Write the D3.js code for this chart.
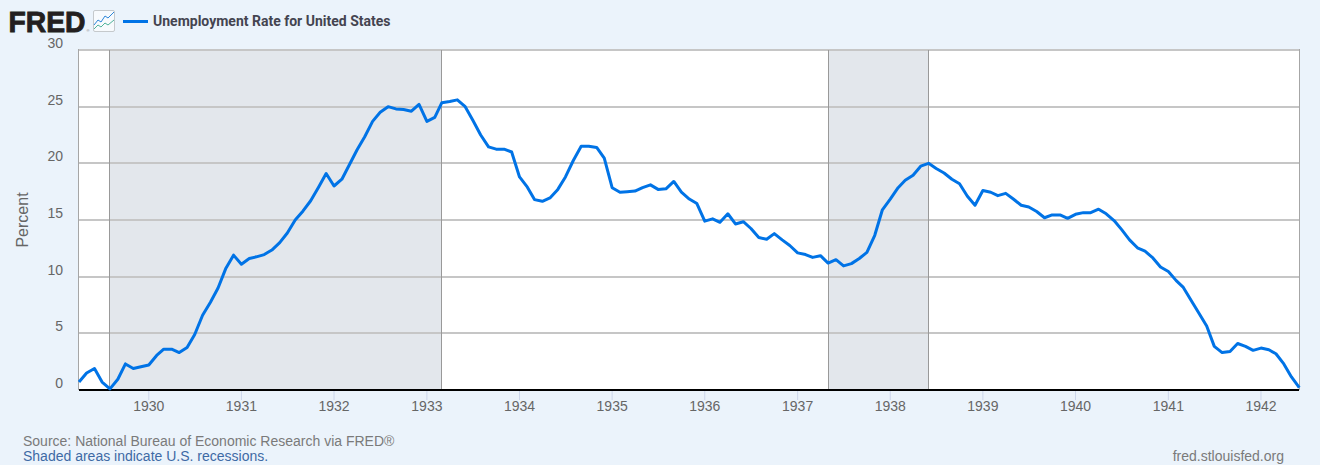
<!DOCTYPE html>
<html><head><meta charset="utf-8">
<script src="https://cdn.jsdelivr.net/npm/d3@7"></script>
<style>html,body{margin:0;padding:0;background:#ebf3fb}svg{display:block}</style>
</head><body><svg id="c" width="1320" height="465"></svg>
<script>
const seriesName = "Unemployment Rate for United States";
const startMonth = "1929-04";
const unemployment = [
0.7,1.5,1.9,0.7,0.1,0.95,2.3,1.9,2.05,2.2,3.05,3.6,3.6,3.3,3.75,4.9,6.6,7.75,9.0,10.75,11.9,11.1,11.6,11.75,
11.95,12.35,13.0,13.85,15.0,15.8,16.7,17.9,19.1,18.0,18.6,19.85,21.2,22.35,23.7,24.5,25.0,24.8,24.75,24.6,25.2,23.7,24.05,
25.35,25.45,25.6,25.0,23.8,22.5,21.45,21.25,21.25,21.0,18.8,17.9,16.8,16.65,16.95,17.7,18.8,20.25,21.5,21.5,21.4,20.45,17.85,17.45,
17.5,17.55,17.85,18.1,17.7,17.75,18.4,17.45,16.85,16.45,14.9,15.1,14.8,15.55,14.65,14.85,14.25,13.45,13.3,13.8,13.25,12.75,12.1,11.95,11.7,11.85,
11.2,11.5,10.95,11.15,11.6,12.15,13.65,15.9,16.85,17.85,18.5,18.95,19.75,20.0,19.55,19.15,18.6,18.2,
17.1,16.3,17.6,17.45,17.15,17.35,16.85,16.3,16.15,15.75,15.2,15.45,15.45,15.15,15.5,15.65,15.65,15.95,15.55,14.95,14.15,13.25,12.55,12.25,11.65,10.85,10.45,
9.65,9.05,7.9,6.8,5.65,3.85,3.3,3.4,4.1,3.85,3.5,3.7,3.55,3.2,2.3,1.15,0.2];
const recessions = [["1929-08-01","1933-03-01"],["1937-05-01","1938-06-01"]];
const yTicks = [0,5,10,15,20,25,30];
const xTickYears = [1930,1931,1932,1933,1934,1935,1936,1937,1938,1939,1940,1941,1942];
const sourceText = "Source: National Bureau of Economic Research via FRED®";
const noteText = "Shaded areas indicate U.S. recessions.";
const siteText = "fred.stlouisfed.org";

const svg = d3.select("#c");
const W = 1320, H = 465;
const L = 79, R = 1299, T = 50, B = 390;
const AXF = "'Liberation Sans',Arial,sans-serif";
svg.append("rect").attr("width",W).attr("height",H).attr("fill","#ebf3fb");

const parse = d3.utcParse("%Y-%m-%d");
const t0 = parse(startMonth+"-01");
const dates = unemployment.map((_,i)=>d3.utcMonth.offset(t0,i));
const x = d3.scaleUtc().domain([dates[0],dates[dates.length-1]]).range([L,R+0.3]);
const y = d3.scaleLinear().domain([0,30]).range([B,T]);

svg.append("rect").attr("x",L).attr("y",T).attr("width",R-L).attr("height",B-T).attr("fill","#fff");

recessions.forEach(([a,b])=>{
  const xa=Math.floor(x(parse(a))), xb=Math.floor(x(parse(b)));
  svg.append("rect").attr("x",xa).attr("y",T).attr("width",xb-xa).attr("height",B-T).attr("fill","#e3e7ec");
});

// horizontal grid
svg.append("g").selectAll("line").data(yTicks.filter(d=>d>0)).join("line")
  .attr("x1",L).attr("x2",R).attr("y1",d=>Math.round(y(d))).attr("y2",d=>Math.round(y(d)))
  .attr("stroke","#c6c6c6").attr("stroke-width",2);

recessions.forEach(([a,b])=>{
  [a,b].forEach(d=>{
    const xv=Math.floor(x(parse(d)))+0.5;
    svg.append("line").attr("x1",xv).attr("x2",xv).attr("y1",T).attr("y2",B).attr("stroke","#999").attr("stroke-width",1);
  });
});
// plot side borders
[L-0.5,R+0.5].forEach(v=>svg.append("line").attr("x1",v).attr("x2",v).attr("y1",T-1).attr("y2",B).attr("stroke","#a6a6a6").attr("stroke-width",1));

// x axis
const xTickDates = xTickYears.map(v=>new Date(Date.UTC(v,0,1)));
const gx = svg.append("g").attr("transform",`translate(0,${B})`)
  .call(d3.axisBottom(x).offset(0).tickValues(xTickDates).tickFormat(d3.utcFormat("%Y")).tickSize(10).tickPadding(1));
gx.select(".domain").remove();
gx.selectAll("line").attr("stroke","#ccd6eb");
gx.selectAll("text").attr("font-family",AXF).attr("font-size",14).attr("fill","#666").attr("dy","0.71em");
svg.append("line").attr("x1",L).attr("x2",R).attr("y1",B).attr("y2",B).attr("stroke","#000").attr("stroke-width",2);

// y axis labels
const gy = svg.append("g").attr("transform",`translate(${L},0)`)
  .call(d3.axisLeft(y).tickValues(yTicks).tickSize(0).tickPadding(16));
gy.select(".domain").remove();
gy.selectAll("text").attr("font-family",AXF).attr("font-size",14).attr("fill","#666").attr("dy",-2.5);

svg.append("text").attr("transform",`translate(28,220) rotate(-90)`).attr("text-anchor","middle")
  .attr("font-family",AXF).attr("font-size",16).attr("fill","#666").text("Percent");

// series
const line = d3.line().x((d,i)=>x(dates[i])).y(d=>y(d)).curve(d3.curveLinear);
svg.append("path").datum(unemployment).attr("d",line).attr("fill","none").attr("stroke","#0073e6")
  .attr("stroke-width",3).attr("stroke-linejoin","round").attr("stroke-linecap","butt");

// header
svg.append("text").attr("x",8.5).attr("y",32).attr("font-family",AXF).attr("font-weight",700)
  .attr("font-size",30).attr("fill","#231f20").attr("stroke","#231f20").attr("stroke-width",0.9).attr("textLength",77).attr("lengthAdjust","spacingAndGlyphs").text("FRED");
svg.append("text").attr("x",86.5).attr("y",32).attr("font-family",AXF).attr("font-size",4).attr("fill","#777").text("®");
const ic = svg.append("g").attr("transform","translate(93,10)");
ic.append("rect").attr("x",.5).attr("y",.5).attr("width",21).attr("height",21).attr("rx",1.5).attr("fill","#f7fafd").attr("stroke","#c5c9cc");
ic.append("polyline").attr("points","1,15 5,10 8,12 12,6 15,8 21,2").attr("fill","none").attr("stroke","#2d86d9").attr("stroke-width",1);
ic.append("polyline").attr("points","1,19 5,15 8,17 12,13 15,15 21,10").attr("fill","none").attr("stroke","#4fb39a").attr("stroke-width",1);

svg.append("line").attr("x1",123).attr("x2",148).attr("y1",21.5).attr("y2",21.5).attr("stroke","#0073e6").attr("stroke-width",3);
svg.append("text").attr("x",153).attr("y",26).attr("font-family","Roboto,sans-serif").attr("font-weight",700)
  .attr("font-size",14).attr("fill","#444450").text(seriesName);

// footer
svg.append("text").attr("x",23).attr("y",446).attr("font-family",AXF).attr("font-size",14).attr("fill","#7a7a7a").text(sourceText);
svg.append("text").attr("x",23).attr("y",461).attr("font-family",AXF).attr("font-size",14).attr("fill","#3e6aa5").text(noteText);
svg.append("text").attr("x",1284).attr("y",461).attr("text-anchor","end").attr("font-family",AXF).attr("font-size",14).attr("fill","#7a7a7a").text(siteText);
</script></body></html>
